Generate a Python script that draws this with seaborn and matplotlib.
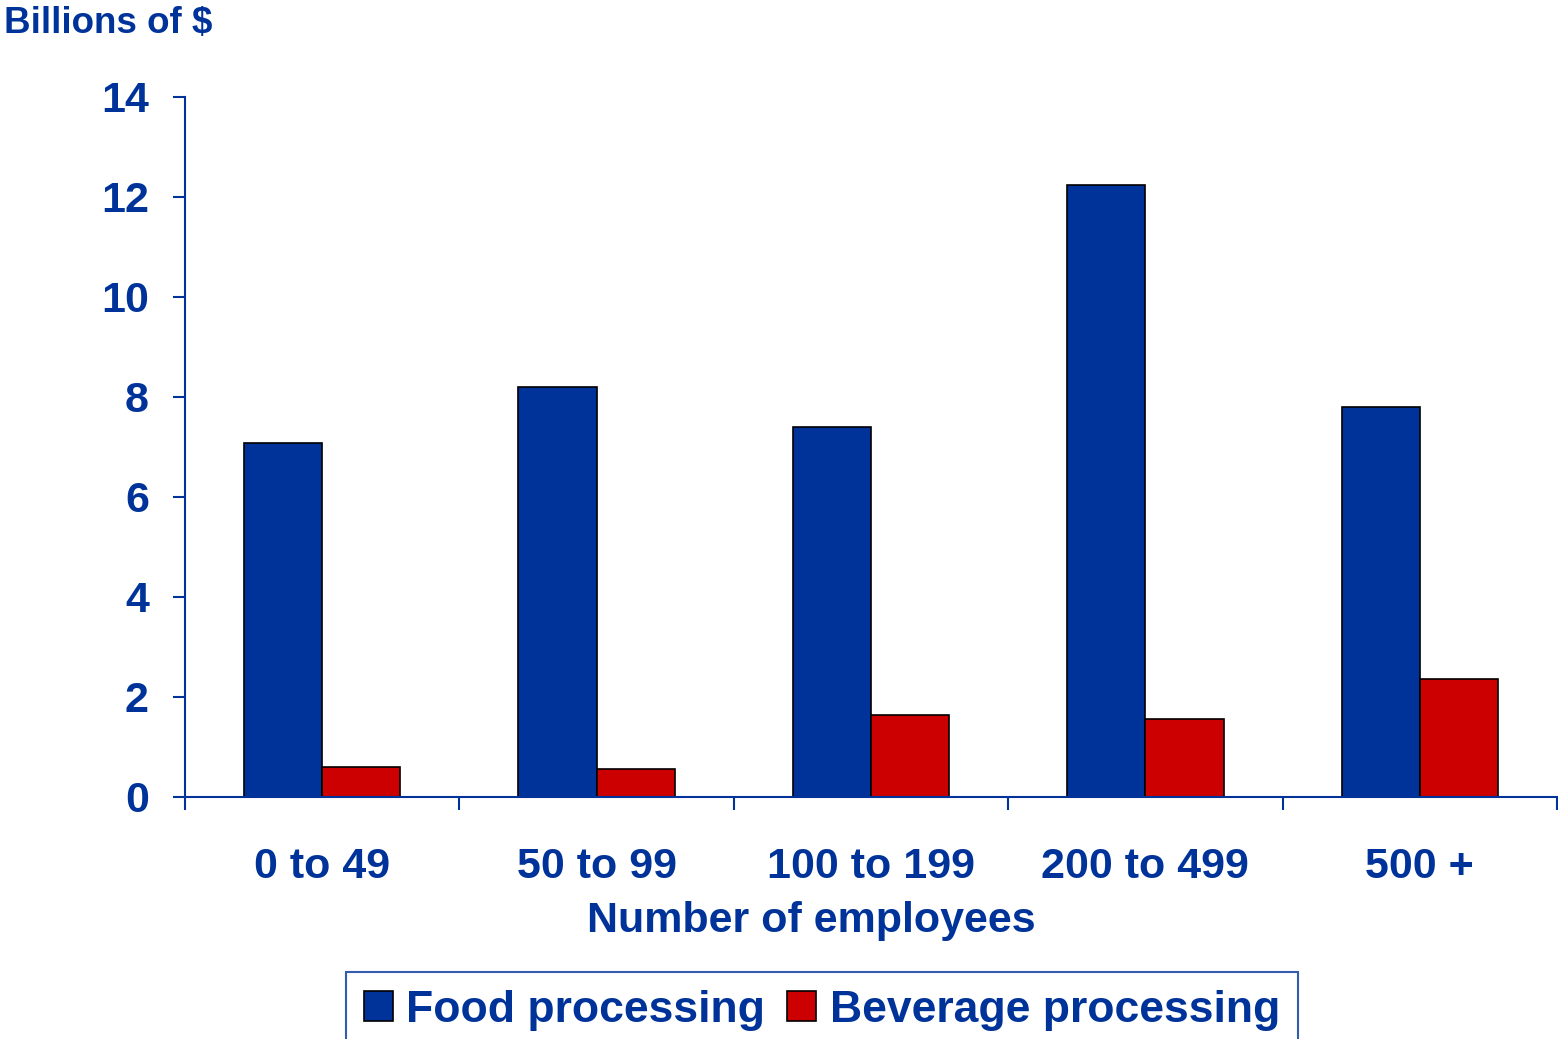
import pandas as pd
import matplotlib.pyplot as plt
import seaborn as sns

# Values (billions of $)
size_classes = ['0 to 49', '50 to 99', '100 to 199', '200 to 499', '500 +']
food_values = [7.08, 8.2, 7.4, 12.25, 7.8]
beverage_values = [0.6, 0.56, 1.64, 1.56, 2.36]
series_names = ['Food processing', 'Beverage processing']
y_ticks = [0, 2, 4, 6, 8, 10, 12, 14]

blue = '#003399'
red = '#CC0000'

data = pd.DataFrame({
    'Size': size_classes * 2,
    'Value': food_values + beverage_values,
    'Series': [series_names[0]] * 5 + [series_names[1]] * 5,
})

sns.set_style('white')
plt.rcParams['font.family'] = ['Liberation Sans', 'DejaVu Sans']
plt.rcParams['font.weight'] = 'bold'

fig = plt.figure(figsize=(15.58, 10.39), dpi=100)
ax = fig.add_axes([185 / 1558, 1 - 797 / 1039, (1557 - 185) / 1558, 700 / 1039])

sns.barplot(data=data, x='Size', y='Value', hue='Series', order=size_classes,
            hue_order=series_names, palette=[blue, red], width=0.57,
            edgecolor='black', linewidth=1.2, saturation=1, ax=ax)

ax.set_ylim(0, 14)
ax.set_xlim(-0.5, 4.5)
ax.set_yticks(y_ticks)
ax.set_yticklabels([str(t) for t in y_ticks], fontsize=31, fontweight='bold', color=blue)
ax.set_xticks(range(len(size_classes)))
ax.set_xticklabels(size_classes, fontsize=31, fontweight='bold', color=blue)
ax.set_xticks([i - 0.5 for i in range(len(size_classes) + 1)], minor=True)
ax.tick_params(axis='x', which='major', length=0, pad=36)
ax.tick_params(axis='x', which='minor', direction='out', length=9, width=1.5, color=blue, bottom=True)
ax.tick_params(axis='y', direction='out', length=9, width=1.5, color=blue, pad=17, left=True)

for side in ['top', 'right']:
    ax.spines[side].set_visible(False)
for side in ['left', 'bottom']:
    ax.spines[side].set_color(blue)
    ax.spines[side].set_linewidth(1.5)

ax.set_ylabel('')
ax.set_xlabel('Number of employees', fontsize=31, fontweight='bold', color=blue)
ax.xaxis.set_label_coords((811.5 - 185) / 1372, -104 / 700)

fig.text(4 / 1558, 1 - 23 / 1039, 'Billions of $', fontsize=26.5, fontweight='bold',
         color=blue, ha='left', va='center')

handles, labels = ax.get_legend_handles_labels()
ax.get_legend().remove()
leg = fig.legend(handles, labels, loc='upper center', ncol=2,
                 bbox_to_anchor=(822 / 1558, 1 - 972 / 1039), borderaxespad=0,
                 prop={'size': 32, 'weight': 'bold'}, frameon=True, fancybox=False,
                 edgecolor=blue, handlelength=0.65, handleheight=0.65,
                 handletextpad=0.3, columnspacing=0.5, borderpad=0.4)
leg.get_frame().set_linewidth(1.5)
for text in leg.get_texts():
    text.set_color(blue)

fig.savefig('out.png', dpi=100)
